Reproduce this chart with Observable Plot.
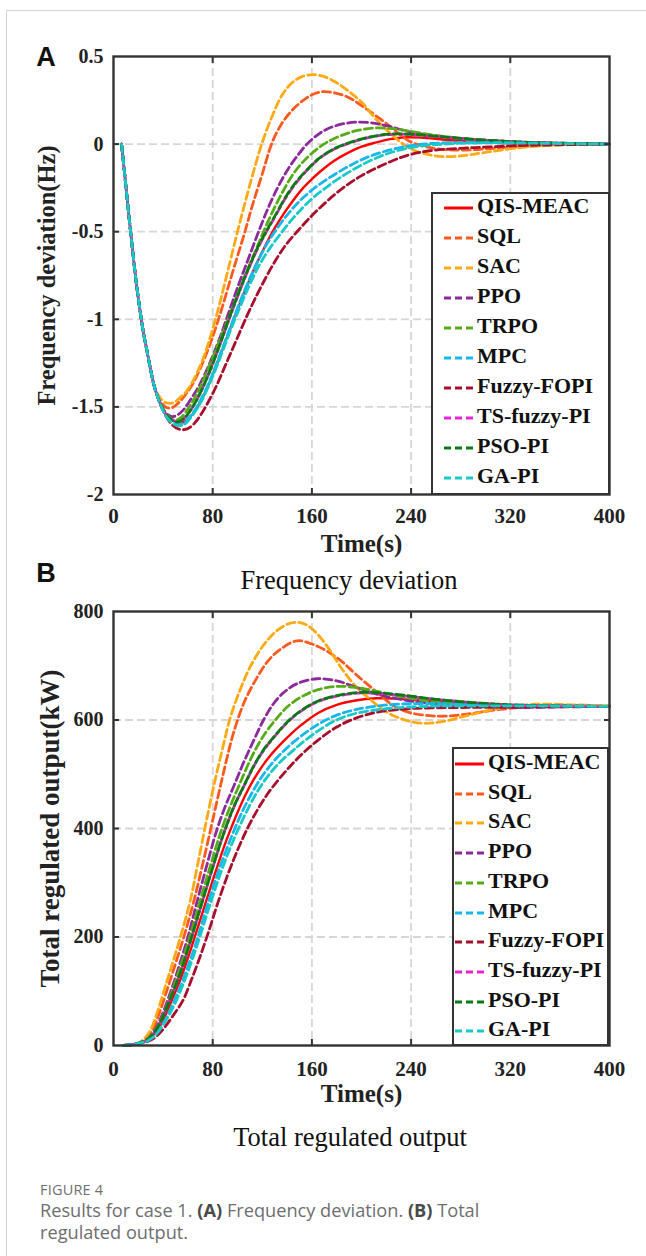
<!DOCTYPE html>
<html>
<head>
<meta charset="utf-8">
<script src="https://cdn.jsdelivr.net/npm/d3@7"></script>
<script src="https://cdn.jsdelivr.net/npm/@observablehq/plot@0.6"></script>
<style>
  body { margin: 0; background: #fff; }
  #page { position: relative; width: 646px; height: 1256px; overflow: hidden; background: #fff; }
  #card { position: absolute; left: 6px; top: 10px; width: 700px; height: 1300px; border-top: 1px solid #d2d2d2; border-left: 1px solid #d2d2d2; }
  .plotbox { position: absolute; left: 0; }
  .panel-label { position: absolute; font-family: "Liberation Sans", Arial, sans-serif; font-weight: bold; font-size: 27px; color: #111; transform: translate(-50%, -50%); line-height: 1; }
  .title { position: absolute; font-family: "Liberation Serif", "Times New Roman", serif; font-size: 26.5px; color: #111; transform: translate(-50%, -50%); white-space: nowrap; line-height: 1; }
  .legend { position: absolute; box-sizing: border-box; border: 2px solid #333; background: #fff; }
  .lg-text { position: absolute; font-family: "Liberation Serif", "Times New Roman", serif; font-weight: bold; font-size: 22px; color: #111; line-height: 1; transform: translateY(-50%); white-space: nowrap; }
  .lg-sample { position: absolute; }
  #figlabel { position: absolute; left: 40px; top: 1180px; font-family: "Open Sans", "Noto Sans", sans-serif; font-size: 14.5px; color: #707070; letter-spacing: 0.2px; }
  #caption { position: absolute; left: 40px; top: 1199px; font-family: "Open Sans", "Noto Sans", sans-serif; font-size: 18.2px; line-height: 22px; color: #6e6e6e; white-space: nowrap; }
  #caption b { color: #4a4a4a; }
</style>
</head>
<body>
<div id="page">
  <div id="card"></div>
  <div id="plotA" class="plotbox" style="top:0px"></div>
  <div id="plotB" class="plotbox" style="top:590px"></div>
  <div class="panel-label" style="left:46px; top:57px">A</div>
  <div class="panel-label" style="left:46px; top:573px">B</div>
  <div class="title" style="left:349px; top:580px">Frequency deviation</div>
  <div class="title" style="left:350px; top:1137px">Total regulated output</div>
  <div id="figlabel">FIGURE 4</div>
  <div id="caption">Results for case 1. <b>(A)</b> Frequency deviation. <b>(B)</b> Total<br>regulated output.</div>
</div>
<script>
// ---------- categories / styles ----------
const methods = ["QIS-MEAC", "SQL", "SAC", "PPO", "TRPO", "MPC", "Fuzzy-FOPI", "TS-fuzzy-PI", "PSO-PI", "GA-PI"];
const colors  = ["#ff0000", "#ff5a1e", "#ffaa12", "#8c2a9c", "#58ab18", "#18b6ee", "#a80f2c", "#e424d6", "#0b7a14", "#19c9c9"];

// ---------- tick labels ----------
const xTicks = [0, 80, 160, 240, 320, 400];
const xTickLabels = ["0", "80", "160", "240", "320", "400"];
const freqTicks = [-2, -1.5, -1, -0.5, 0, 0.5];
const freqTickLabels = ["-2", "-1.5", "-1", "-0.5", "0", "0.5"];
const powerTicks = [0, 200, 400, 600, 800];
const powerTickLabels = ["0", "200", "400", "600", "800"];

// ---------- (A) frequency deviation (Hz) vs time (s) ----------
const freqDrop = [[6.5,0],[9,-0.17],[12,-0.38],[15,-0.58],[18,-0.77],[21,-0.93],[24,-1.07],[27,-1.18],[30,-1.29],[33,-1.385]];
const freqQIS = freqDrop.concat([[36,-1.45],[39,-1.5],[43,-1.55],[47,-1.575],[51,-1.587],[55,-1.59],[60,-1.57],[66,-1.52],[73,-1.43],[81,-1.3],[89,-1.15],[97,-1.0],[105,-0.855],[113,-0.72],[121,-0.6],[130,-0.48],[138,-0.39],[145,-0.32],[153,-0.25],[160,-0.2],[167,-0.155],[178,-0.095],[189,-0.05],[200,-0.015],[211,0.008],[222,0.027],[233,0.038],[248,0.037],[267,0.025],[290,0.013],[322,0.004],[360,0.001],[400,0]]);
const freqSQL = freqDrop.concat([[36,-1.44],[39,-1.48],[43,-1.505],[47,-1.505],[52,-1.48],[57,-1.44],[63,-1.38],[70,-1.28],[78,-1.14],[86,-0.97],[94,-0.78],[100,-0.64],[106,-0.5],[112,-0.35],[120,-0.17],[128,0.01],[136,0.12],[145,0.2],[155,0.26],[163,0.29],[170,0.3],[180,0.29],[190,0.265],[200,0.22],[211,0.165],[222,0.107],[231,0.055],[239,0.015],[250,-0.012],[262,-0.027],[280,-0.034],[300,-0.028],[320,-0.017],[350,-0.006],[400,0]]);
const freqSAC = freqDrop.concat([[36,-1.43],[39,-1.46],[42,-1.475],[46,-1.48],[50,-1.47],[54,-1.445],[59,-1.41],[65,-1.34],[72,-1.23],[79,-1.08],[86,-0.9],[93,-0.7],[100,-0.5],[107,-0.31],[114,-0.13],[120,0.01],[128,0.16],[136,0.28],[144,0.35],[152,0.385],[161,0.397],[170,0.385],[180,0.35],[190,0.3],[200,0.24],[212,0.14],[225,0.05],[239,-0.025],[254,-0.06],[269,-0.072],[285,-0.063],[302,-0.045],[322,-0.025],[345,-0.01],[370,-0.003],[400,0]]);
const freqPPO = freqDrop.concat([[36,-1.45],[39,-1.5],[43,-1.54],[47,-1.555],[51,-1.548],[56,-1.52],[62,-1.46],[69,-1.38],[77,-1.26],[85,-1.12],[93,-0.96],[101,-0.8],[109,-0.65],[117,-0.5],[125,-0.36],[133,-0.24],[141,-0.14],[149,-0.06],[156,0.0],[164,0.05],[172,0.085],[183,0.112],[195,0.125],[207,0.122],[220,0.105],[239,0.07],[260,0.045],[280,0.032],[300,0.022],[330,0.01],[360,0.004],[400,0]]);
const freqTRPO = freqDrop.concat([[36,-1.45],[39,-1.5],[43,-1.545],[47,-1.57],[51,-1.575],[56,-1.55],[62,-1.49],[69,-1.4],[77,-1.27],[85,-1.13],[93,-0.99],[101,-0.84],[109,-0.7],[115,-0.6],[121,-0.5],[129,-0.375],[137,-0.265],[145,-0.17],[153,-0.1],[162,-0.04],[172,0.01],[184,0.05],[197,0.078],[211,0.092],[225,0.088],[240,0.072],[260,0.05],[285,0.03],[310,0.018],[340,0.008],[400,0]]);
const freqMPC = freqDrop.concat([[36,-1.45],[39,-1.505],[43,-1.555],[47,-1.585],[52,-1.6],[57,-1.59],[63,-1.545],[70,-1.465],[78,-1.345],[86,-1.2],[94,-1.05],[102,-0.9],[110,-0.765],[118,-0.645],[125,-0.555],[132,-0.48],[140,-0.405],[148,-0.34],[157,-0.28],[167,-0.225],[178,-0.175],[190,-0.125],[203,-0.08],[217,-0.045],[232,-0.018],[247,-0.002],[262,0.006],[280,0.009],[305,0.008],[340,0.004],[400,0]]);
const freqFuzzy = freqDrop.concat([[36,-1.45],[39,-1.505],[43,-1.56],[47,-1.6],[52,-1.625],[57,-1.63],[62,-1.615],[68,-1.57],[75,-1.49],[83,-1.38],[91,-1.25],[99,-1.12],[107,-0.99],[115,-0.87],[123,-0.76],[131,-0.66],[139,-0.575],[148,-0.5],[157,-0.43],[167,-0.36],[178,-0.29],[190,-0.225],[200,-0.18],[211,-0.14],[225,-0.095],[239,-0.06],[255,-0.038],[280,-0.024],[300,-0.017],[322,-0.01],[350,-0.005],[400,0]]);
const freqTS = freqDrop.concat([[36,-1.45],[39,-1.5],[43,-1.55],[47,-1.574],[52,-1.585],[57,-1.565],[63,-1.51],[70,-1.42],[78,-1.29],[86,-1.14],[94,-0.985],[102,-0.835],[110,-0.695],[117,-0.585],[123,-0.505],[131,-0.405],[139,-0.305],[148,-0.215],[157,-0.142],[166,-0.082],[177,-0.032],[189,0.003],[202,0.031],[214,0.048],[225,0.056],[240,0.055],[258,0.045],[280,0.032],[305,0.02],[335,0.01],[400,0]]);
const freqPSO = freqDrop.concat([[36,-1.45],[39,-1.5],[43,-1.55],[47,-1.575],[52,-1.586],[57,-1.565],[63,-1.51],[70,-1.42],[78,-1.29],[86,-1.14],[94,-0.98],[102,-0.83],[110,-0.69],[117,-0.58],[123,-0.5],[131,-0.4],[139,-0.3],[148,-0.21],[157,-0.14],[166,-0.08],[177,-0.03],[189,0.005],[202,0.033],[214,0.05],[225,0.058],[240,0.056],[258,0.046],[280,0.033],[305,0.02],[335,0.01],[400,0]]);
const freqGA = freqDrop.concat([[36,-1.45],[39,-1.505],[43,-1.56],[47,-1.59],[52,-1.607],[57,-1.6],[63,-1.555],[70,-1.48],[78,-1.36],[86,-1.22],[94,-1.07],[102,-0.93],[110,-0.8],[118,-0.685],[127,-0.585],[136,-0.5],[144,-0.43],[153,-0.36],[162,-0.3],[172,-0.245],[183,-0.19],[196,-0.135],[210,-0.085],[225,-0.045],[240,-0.02],[253,-0.007],[266,0.0],[285,0.006],[310,0.008],[340,0.005],[400,0]]);

// ---------- (B) total regulated output (kW) vs time (s) ----------
const powerStart = [[8,0],[14,1],[20,4]];
const powerQIS = powerStart.concat([[26,8],[32,19],[39,42],[46,78],[54,122],[63,182],[75,268],[83,325],[91,378],[99,424],[106,460],[113,490],[120,515],[127,536],[135,556],[143,574],[151,590],[165,613],[180,628],[195,636],[212,640],[230,639],[250,636],[275,632],[300,629],[340,626],[400,625]]);
const powerSQL = powerStart.concat([[25,11],[31,27],[37,60],[44,108],[51,158],[58,210],[65,268],[72,335],[79,405],[85,466],[91,525],[97,578],[106,636],[116,679],[125,710],[135,731],[148,746],[160,740],[172,727],[184,708],[196,683],[212,652],[226,626],[240,613],[255,608],[267,607],[285,611],[310,619],[340,625],[370,627],[400,626]]);
const powerSAC = powerStart.concat([[25,13],[30,29],[36,66],[43,118],[49,162],[55,208],[62,268],[68,335],[75,415],[82,490],[88,548],[94,603],[102,655],[110,697],[120,735],[129,759],[137,773],[146,780],[155,776],[165,757],[175,727],[184,695],[195,663],[206,640],[220,615],[235,600],[250,594],[265,597],[285,608],[310,621],[340,629],[370,628],[400,626]]);
const powerPPO = powerStart.concat([[26,10],[32,24],[38,50],[45,92],[52,140],[60,200],[67,262],[75,330],[83,395],[90,440],[97,478],[105,522],[113,562],[121,600],[129,630],[138,652],[148,667],[164,676],[180,672],[195,661],[210,649],[225,641],[245,633],[270,628],[300,624],[330,623],[360,624],[400,625]]);
const powerTRPO = powerStart.concat([[26,10],[32,22],[38,46],[45,86],[52,132],[61,196],[70,268],[78,330],[86,390],[94,440],[101,478],[110,525],[118,560],[124,581],[132,604],[140,624],[151,642],[165,656],[181,662],[195,660],[210,654],[225,646],[245,638],[270,631],[300,627],[340,625],[400,625]]);
const powerMPC = powerStart.concat([[26,7],[33,18],[40,40],[47,72],[55,115],[65,178],[77,268],[86,330],[95,384],[104,432],[113,471],[121,500],[130,526],[140,549],[151,570],[165,592],[180,609],[195,619],[217,627],[240,630],[260,630],[290,628],[330,626],[400,625]]);
const powerFuzzy = powerStart.concat([[26,6],[33,14],[40,30],[48,55],[56,83],[63,122],[70,165],[77,212],[84,262],[92,314],[100,360],[108,400],[116,434],[124,463],[132,487],[141,511],[151,535],[165,563],[180,587],[195,603],[212,614],[240,621],[280,623],[330,624],[400,625]]);
const powerTS = powerStart.concat([[26,9],[32,21],[38,44],[45,82],[53,128],[62,192],[72,268],[80,328],[88,385],[97,439],[105,477],[113,514],[121,544],[129,567],[140,595],[151,616],[165,634],[180,644],[200,650],[220,648],[240,643],[260,638],[290,632],[320,628],[360,626],[400,625]]);
const powerPSO = powerStart.concat([[26,9],[32,21],[38,44],[45,82],[53,128],[62,192],[72,268],[80,328],[88,385],[97,440],[105,478],[113,515],[121,545],[129,568],[140,596],[151,617],[165,635],[180,645],[200,651],[220,649],[240,644],[260,638],[290,632],[320,628],[360,626],[400,625]]);
const powerGA = powerStart.concat([[26,7],[33,17],[40,38],[48,70],[56,112],[66,175],[79,268],[88,328],[97,380],[106,425],[116,468],[125,498],[135,524],[145,544],[151,556],[165,580],[180,600],[195,612],[217,620],[240,624],[265,626],[300,626],[340,626],[400,625]]);

const freqSeries  = [freqQIS, freqSQL, freqSAC, freqPPO, freqTRPO, freqMPC, freqFuzzy, freqTS, freqPSO, freqGA];
const powerSeries = [powerQIS, powerSQL, powerSAC, powerPPO, powerTRPO, powerMPC, powerFuzzy, powerTS, powerPSO, powerGA];

// ---------- drawing ----------
const serif = '"Liberation Serif", "Times New Roman", Times, serif';
const dashes = [null, "8,4", "8,4", "8,4", "8,4", "8,4", "8,4", "8,4", "8,4", "8,4"];
const dashOffsets = [0, 0, 0, 0, 0, 0, 0, 6, 0, 0];
const gridStyle = {stroke: "#d6d6d6", strokeOpacity: 1, strokeWidth: 1.8, strokeDasharray: "8,4"};
const tickStyle = {tickFormat: () => "", label: null, stroke: "#333", strokeWidth: 2, tickSize: 6};

function buildPanel(o) {
  const lineMarks = methods.map((m, i) => Plot.line(o.series[i], {
    x: d => d[0], y: d => d[1],
    stroke: colors[i],
    strokeWidth: i === 0 ? 2.4 : 2.8,
    strokeDasharray: dashes[i] || undefined,
    strokeDashoffset: dashOffsets[i],
    curve: "catmull-rom"
  }));
  return Plot.plot({
    width: 646, height: o.height,
    marginTop: o.marginTop, marginBottom: o.marginBottom, marginLeft: 113, marginRight: 37,
    style: {background: "transparent", overflow: "visible"},
    x: {domain: [0, 400]},
    y: {domain: o.yDomain},
    marks: [
      Plot.gridX(xTicks.slice(1, -1), gridStyle),
      Plot.gridY(o.yTicks.slice(1, -1), gridStyle),
      ...lineMarks,
      Plot.frame({stroke: "#333", strokeWidth: 2.4}),
      Plot.axisX(xTicks.slice(1, -1), {...tickStyle, anchor: "bottom", insetBottom: 6}),
      Plot.axisX(xTicks.slice(1, -1), {...tickStyle, anchor: "top", insetTop: 6}),
      Plot.axisY(o.yTicks.slice(1, -1), {...tickStyle, anchor: "left", insetLeft: 6}),
      Plot.axisY(o.yTicks.slice(1, -1), {...tickStyle, anchor: "right", insetRight: 6}),
      Plot.axisX(xTicks, {anchor: "bottom", tickSize: 0, tickPadding: o.xPad,
        tickFormat: d => xTickLabels[xTicks.indexOf(d)], label: null,
        fontSize: 21, fontWeight: "bold", fontFamily: serif, fill: "#222"}),
      Plot.axisY(o.yTicks, {anchor: "left", tickSize: 0, tickPadding: 10,
        tickFormat: d => o.yTickLabels[o.yTicks.indexOf(d)], label: null,
        fontSize: 20, fontWeight: "bold", fontFamily: serif, fill: "#222"}),
      Plot.text([o.yLabel], {frameAnchor: "left", textAnchor: "middle", dx: o.yLabelDx, rotate: -90, text: d => d,
        fontSize: o.yLabelSize, fontWeight: "bold", fontFamily: serif, fill: "#222"}),
      Plot.text(["Time(s)"], {frameAnchor: "bottom", dy: o.timeDy, text: d => d,
        fontSize: 25, fontWeight: "bold", fontFamily: serif, fill: "#222"})
    ]
  });
}

document.getElementById("plotA").appendChild(buildPanel({
  series: freqSeries, yDomain: [-2, 0.5], yTicks: freqTicks, yTickLabels: freqTickLabels,
  yLabel: "Frequency deviation(Hz)", yLabelSize: 24.5, yLabelDx: -66,
  height: 570, marginTop: 56, marginBottom: 76, xPad: 14, timeDy: 57
}));
document.getElementById("plotB").appendChild(buildPanel({
  series: powerSeries, yDomain: [0, 800], yTicks: powerTicks, yTickLabels: powerTickLabels,
  yLabel: "Total regulated output(kW)", yLabelSize: 27, yLabelDx: -63,
  height: 530, marginTop: 21, marginBottom: 75, xPad: 16, timeDy: 56
}));

// ---------- legends ----------
function addLegend(box) {
  const page = document.getElementById("page");
  const frame = document.createElement("div");
  frame.className = "legend";
  Object.assign(frame.style, {left: box.left + "px", top: box.top + "px", width: box.width + "px", height: box.height + "px"});
  page.appendChild(frame);
  methods.forEach((m, i) => {
    const cy = box.firstRow + i * box.step;
    const svg = d3.create("svg").attr("class", "lg-sample").attr("width", 30).attr("height", 8)
      .style("left", box.sampleX + "px").style("top", (cy + 2 - 4) + "px");
    svg.append("line").attr("x1", 0).attr("x2", 29).attr("y1", 4).attr("y2", 4)
      .attr("stroke", colors[i]).attr("stroke-width", 3)
      .attr("stroke-dasharray", dashes[i] ? "7,4" : null);
    page.appendChild(svg.node());
    const t = document.createElement("div");
    t.className = "lg-text";
    t.textContent = m;
    Object.assign(t.style, {left: box.textX + "px", top: cy + "px"});
    page.appendChild(t);
  });
}
addLegend({left: 431, top: 192, width: 179, height: 303, firstRow: 206, step: 30, sampleX: 444, textX: 477});
addLegend({left: 452, top: 747, width: 157, height: 299, firstRow: 762, step: 29.7, sampleX: 455, textX: 488});
</script>
</body>
</html>
